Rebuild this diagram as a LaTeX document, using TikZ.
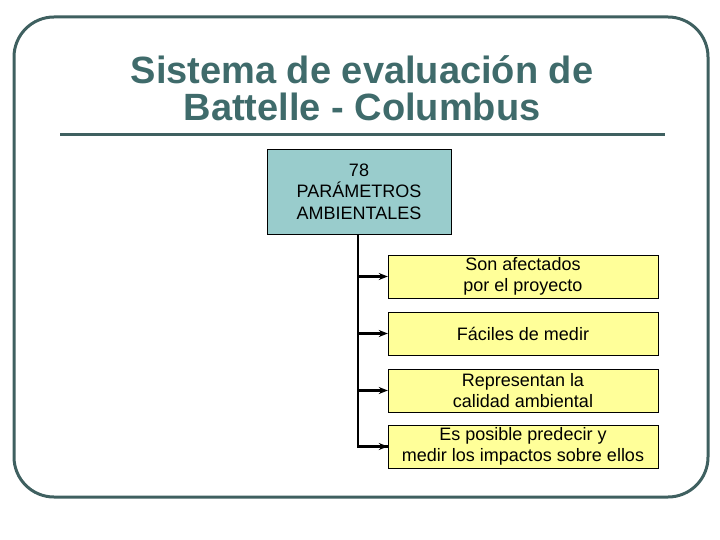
\documentclass[tikz,border=0pt]{standalone}
\usepackage{fontspec}
\setmainfont{Liberation Sans}
\usetikzlibrary{positioning, arrows.meta}
\definecolor{frame}{HTML}{3F6060}
\definecolor{titlec}{HTML}{3F6B6B}
\definecolor{tealbox}{HTML}{99CCCC}
\definecolor{yelbox}{HTML}{FFFF99}
\tikzset{
  mainbox/.style={rectangle, draw, fill=tealbox, minimum width=184pt, minimum height=85pt, align=center, font=\fontsize{18}{21.5}\selectfont},
  itembox/.style={rectangle, draw, fill=yelbox, minimum width=270pt, minimum height=43pt, align=center, inner sep=1pt, font=\fontsize{18}{21.5}\selectfont},
}
\begin{document}
\begin{tikzpicture}[x=1pt,y=-1pt,>={Stealth[length=9pt,width=7pt]}]
        \useasboundingbox (0,0) rectangle (720,540);
        \draw[frame, line width=3pt, rounded corners=40pt] (14,17) rectangle (708,497);
        \node at (362,88) [align=center, text=titlec, font=\bfseries\fontsize{38}{37}\selectfont] (title) {Sistema de evaluación de\\Battelle - Columbus};
        \draw[frame, line width=3pt] (60,135) -- (665,135);

        \node at (359,191.5) [mainbox] (param) {78\\PARÁMETROS\\AMBIENTALES};
        \node at (523,276.5) [itembox] (afect) {Son afectados\\por el proyecto};
        \node at (523,333.5) [itembox] (facil) {Fáciles de medir};
        \node at (523,390.5) [itembox] (repr) {Representan la\\calidad ambiental};
        \node at (523,446.5) [itembox] (pred) {Es posible predecir y\\medir los impactos sobre ellos};

        \coordinate (trunk) at (param.south -| 358,0);
        \draw[line width=2.5pt] (trunk) |- (pred.west);
        \draw[line width=2.5pt, ->] (358,276.5) -- (afect.west);
        \draw[line width=2.5pt, ->] (358,333.5) -- (facil.west);
        \draw[line width=2.5pt, ->] (358,390.5) -- (repr.west);
        \draw[line width=2.5pt, ->] (358,446.5) -- (pred.west);
    \end{tikzpicture}
\end{document}
